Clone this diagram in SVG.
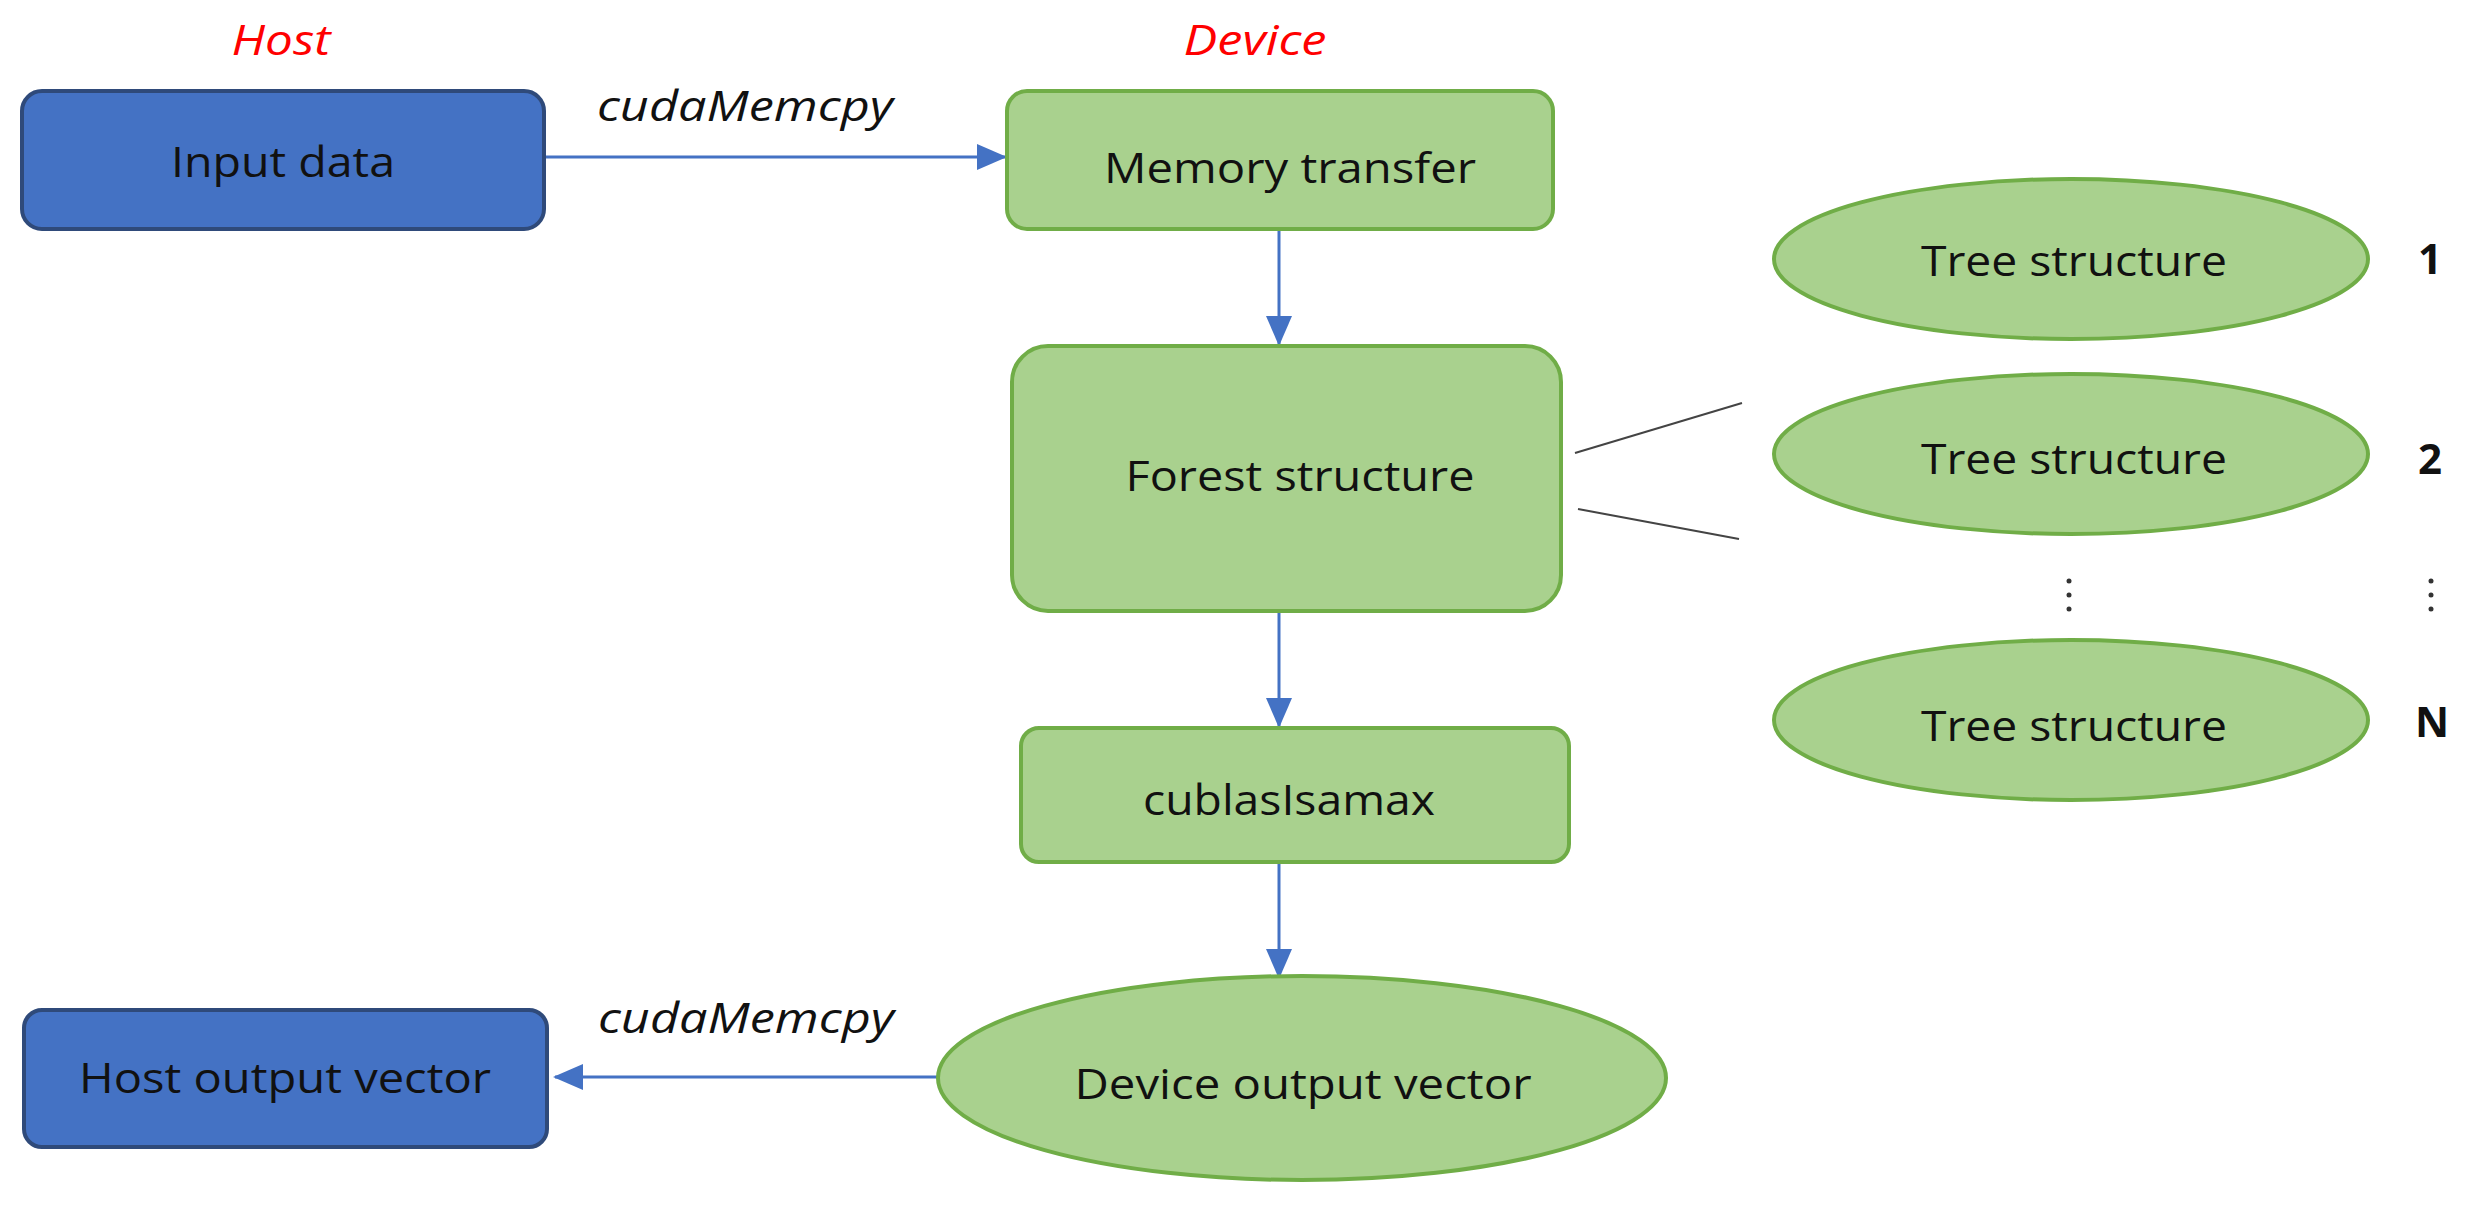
<svg xmlns="http://www.w3.org/2000/svg" width="2478" height="1206" viewBox="0 0 2478 1206">
<style>
text{font-family:"Open Sans","Liberation Sans",sans-serif;font-size:42px;fill:#111;text-anchor:middle;dominant-baseline:central}
.host{fill:#4472c4;stroke:#2f4a7a;stroke-width:4}
.dev{fill:#a9d18e;stroke:#70ad47;stroke-width:4}
.it{font-style:italic}
.red{fill:#ff0000;font-style:italic}
.b{font-weight:bold}
.arr{stroke:#4472c4;stroke-width:3;fill:none}
</style>
<defs><marker id="ah" markerWidth="10" markerHeight="10" refX="9" refY="5" orient="auto" markerUnits="userSpaceOnUse" viewBox="0 0 10 10"><path d="M0,0 L10,5 L0,10 z" fill="#4472c4" transform="scale(1)"/></marker>
<marker id="a2" markerWidth="30" markerHeight="30" refX="28" refY="15" orient="auto" markerUnits="userSpaceOnUse"><path d="M0,2 L30,15 L0,28 z" fill="#4472c4"/></marker></defs>
<text class="red" x="281" y="38" textLength="99" lengthAdjust="spacingAndGlyphs">Host</text>
<text class="red" x="1255" y="38" textLength="143" lengthAdjust="spacingAndGlyphs">Device</text>
<g id="connectors">
<line class="arr" x1="544" y1="157" x2="1005" y2="157" marker-end="url(#a2)"/>
<line class="arr" x1="1279" y1="229" x2="1279" y2="344" marker-end="url(#a2)"/>
<line class="arr" x1="1279" y1="611" x2="1279" y2="726" marker-end="url(#a2)"/>
<line class="arr" x1="1279" y1="862" x2="1279" y2="977" marker-end="url(#a2)"/>
<line class="arr" x1="938" y1="1077" x2="555" y2="1077" marker-end="url(#a2)"/>
<line x1="1575" y1="453" x2="1742" y2="403" stroke="#444" stroke-width="2"/>
<line x1="1578" y1="509" x2="1739" y2="539" stroke="#444" stroke-width="2"/>
<text class="it" x="745" y="104" textLength="296" lengthAdjust="spacingAndGlyphs">cudaMemcpy</text>
<text class="it" x="746" y="1016" textLength="296" lengthAdjust="spacingAndGlyphs">cudaMemcpy</text>
</g>
<g id="input"><rect class="host" x="22" y="91" width="522" height="138" rx="20"/><text x="283" y="160" textLength="224" lengthAdjust="spacingAndGlyphs">Input data</text></g>
<g id="memory"><rect class="dev" x="1007" y="91" width="546" height="138" rx="20"/><text x="1290" y="166" textLength="372" lengthAdjust="spacingAndGlyphs">Memory transfer</text></g>
<g id="forest"><rect class="dev" x="1012" y="346" width="549" height="265" rx="36"/><text x="1300" y="474" textLength="349" lengthAdjust="spacingAndGlyphs">Forest structure</text></g>
<g id="cublas"><rect class="dev" x="1021" y="728" width="548" height="134" rx="18"/><text x="1289" y="798" textLength="292" lengthAdjust="spacingAndGlyphs">cublasIsamax</text></g>
<g id="devout"><ellipse class="dev" cx="1302" cy="1078" rx="364" ry="102"/><text x="1303" y="1082" textLength="457" lengthAdjust="spacingAndGlyphs">Device output vector</text></g>
<g id="hostout"><rect class="host" x="24" y="1010" width="523" height="137" rx="18"/><text x="285" y="1076" textLength="412" lengthAdjust="spacingAndGlyphs">Host output vector</text></g>
<g id="tree1"><ellipse class="dev" cx="2071" cy="259" rx="297" ry="80"/><text x="2074" y="259" textLength="306" lengthAdjust="spacingAndGlyphs">Tree structure</text><text class="b" x="2430" y="257">1</text></g>
<g id="tree2"><ellipse class="dev" cx="2071" cy="454" rx="297" ry="80"/><text x="2074" y="457" textLength="306" lengthAdjust="spacingAndGlyphs">Tree structure</text><text class="b" x="2430" y="457">2</text></g>
<g id="dots" fill="#333"><circle cx="2069" cy="581" r="2.5"/><circle cx="2069" cy="595" r="2.5"/><circle cx="2069" cy="609" r="2.5"/><circle cx="2431" cy="581" r="2.5"/><circle cx="2431" cy="595" r="2.5"/><circle cx="2431" cy="609" r="2.5"/></g>
<g id="treeN"><ellipse class="dev" cx="2071" cy="720" rx="297" ry="80"/><text x="2074" y="724" textLength="306" lengthAdjust="spacingAndGlyphs">Tree structure</text><text class="b" x="2432" y="720">N</text></g>
</svg>
